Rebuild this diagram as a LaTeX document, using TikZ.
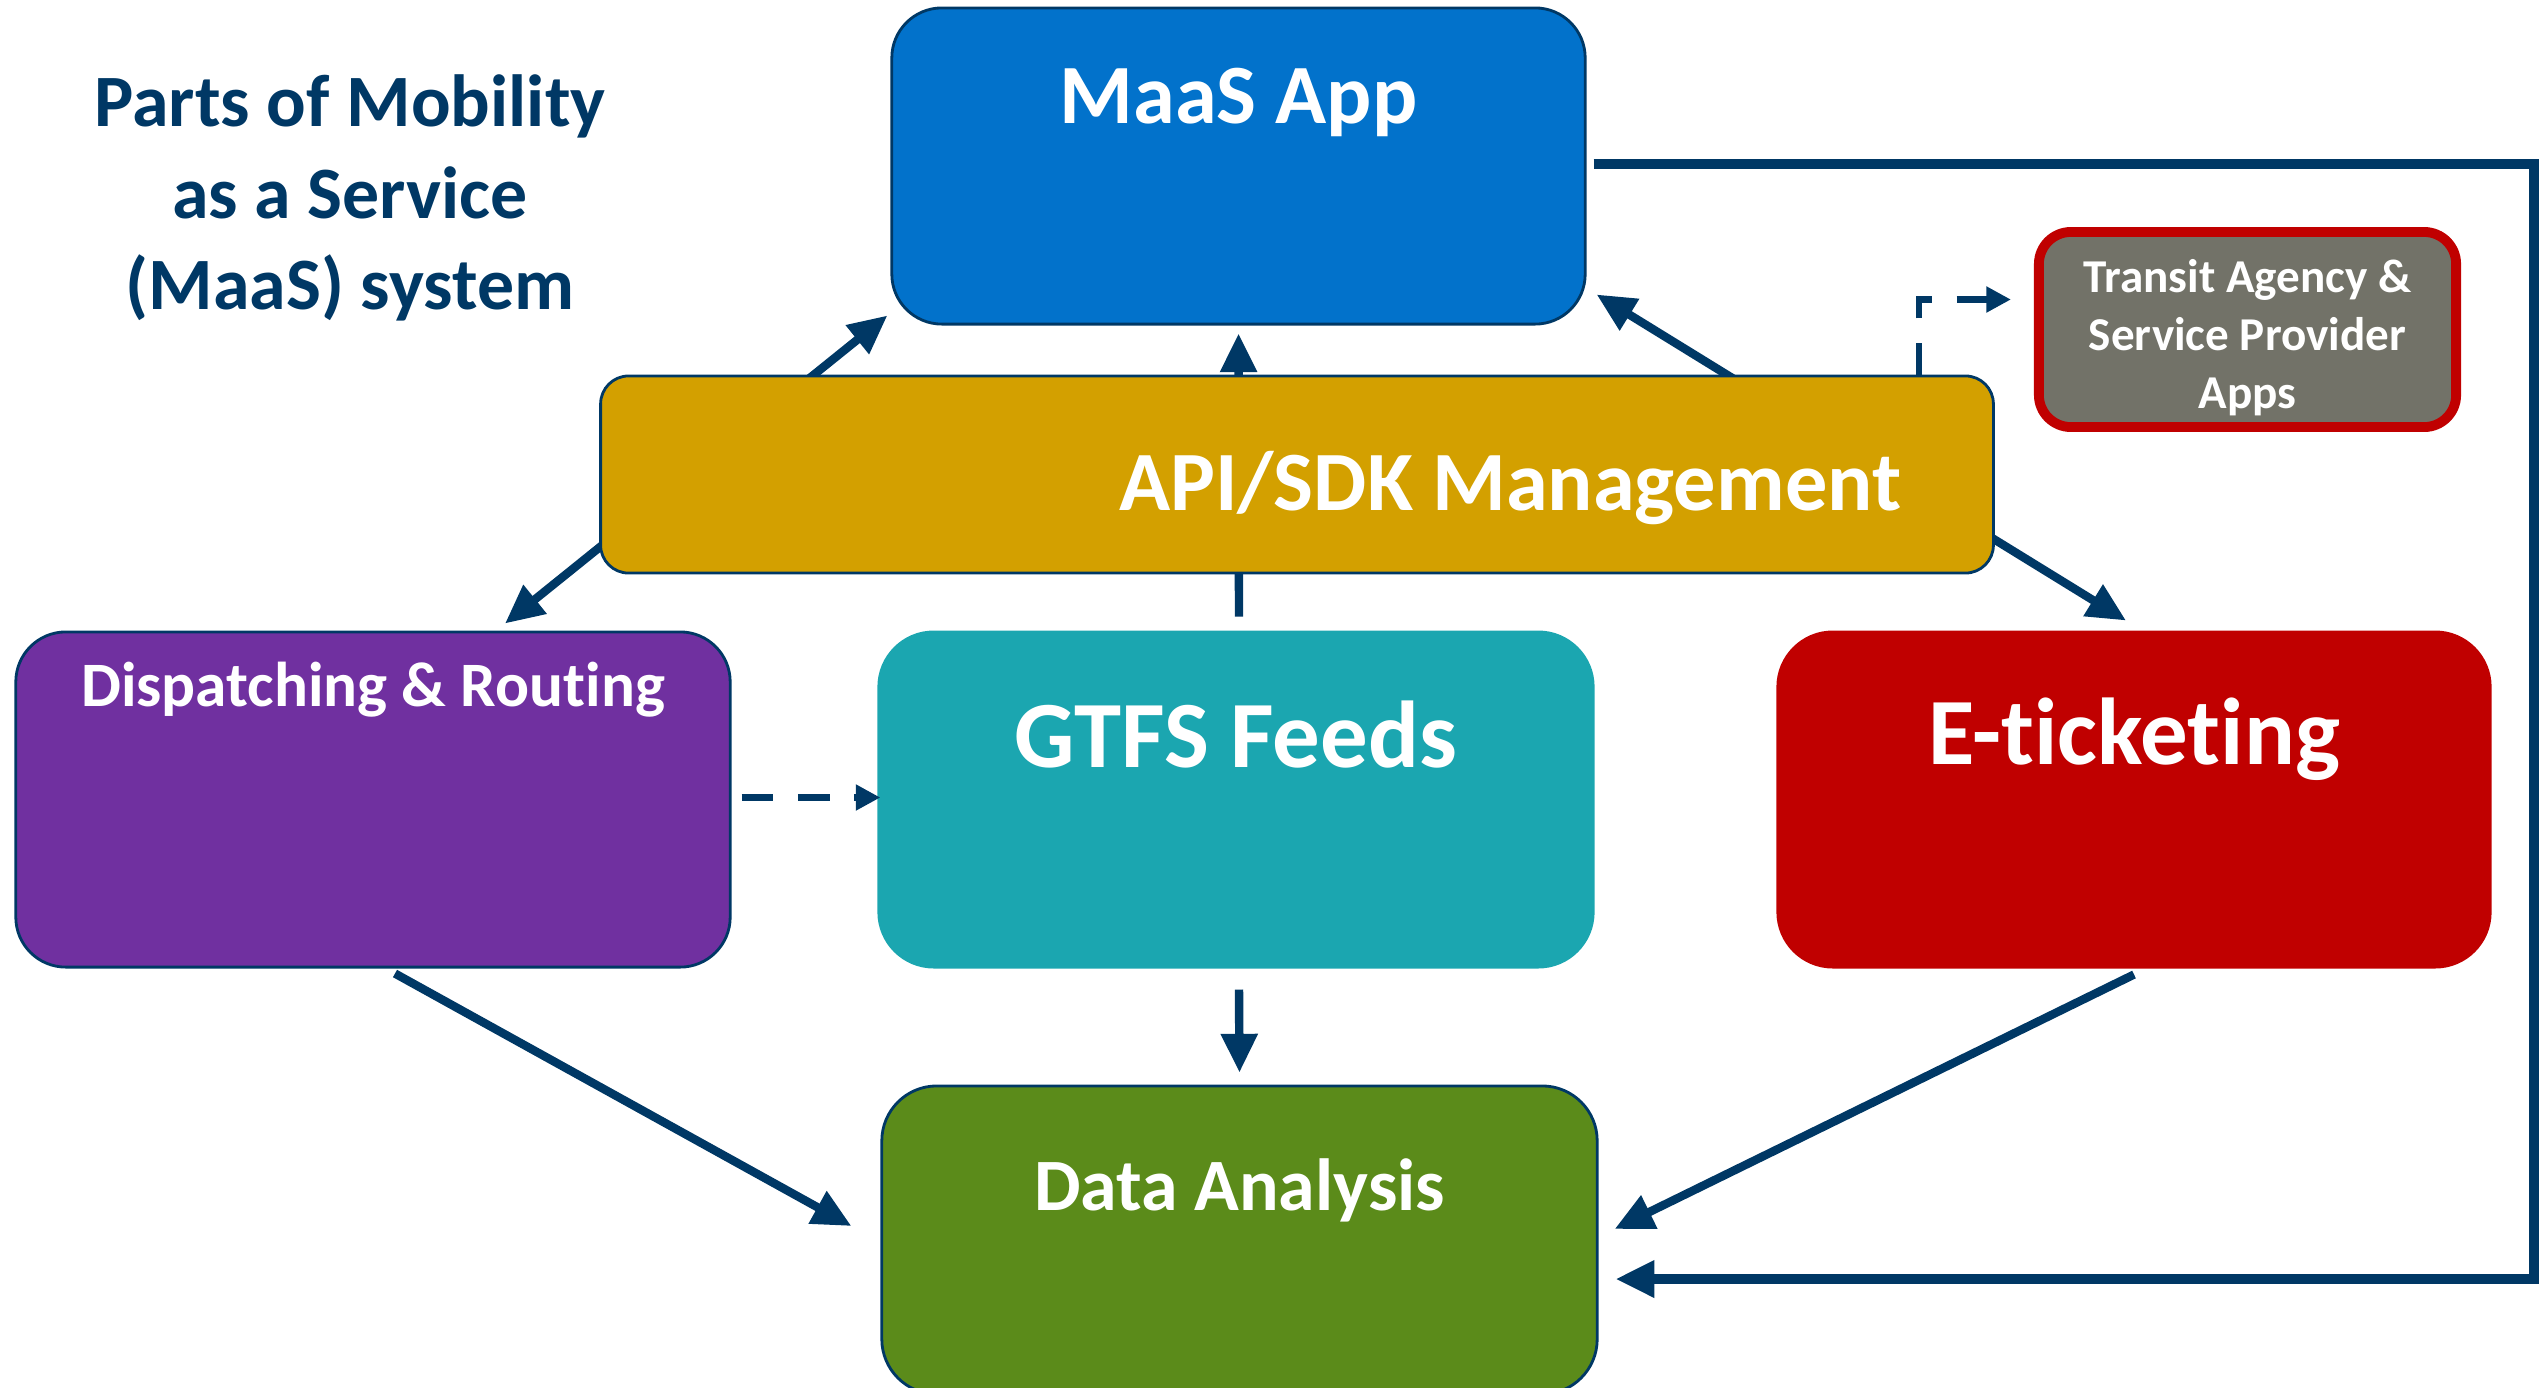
\documentclass[tikz,border=0pt]{standalone}
\usepackage{fontspec}
\setmainfont{Carlito}[Ligatures=NoCommon]
\usetikzlibrary{arrows.meta}
\definecolor{maasblue}{RGB}{2,114,203}
\definecolor{apigold}{RGB}{211,160,0}
\definecolor{disppurple}{RGB}{112,48,160}
\definecolor{gtfsteal}{RGB}{27,166,176}
\definecolor{etred}{RGB}{192,0,0}
\definecolor{datagreen}{RGB}{91,139,26}
\definecolor{transitgray}{RGB}{114,114,104}
\definecolor{navy}{RGB}{0,56,101}

\begin{document}
\begin{tikzpicture}[x=0.01cm,y=-0.01cm,
  box/.style={draw=navy,line width=0.8pt,rounded corners=0.5cm,inner sep=0pt},
  lbl/.style={text=white,anchor=base,inner sep=0pt},
  arr/.style={navy,line width=2.4pt,-{Triangle[length=11pt,width=10pt]}},
  dblarr/.style={navy,line width=2.4pt,{Triangle[length=11pt,width=10pt]}-{Triangle[length=11pt,width=10pt]}},
  dasharr/.style={navy,line width=1.8pt,dash pattern=on 9pt off 7pt,-{Triangle[length=7pt,width=7pt]}}]
\useasboundingbox (0,0) rectangle (2539,1387);

\node[text=navy,align=center,font=\bfseries\fontsize{21}{26}\selectfont] (title) at (350,198)
  {Parts of Mobility\\as a Service\\(MaaS) system};

\node[box,fill=maasblue,minimum width=6.93cm,minimum height=3.16cm,
  label={[lbl,font=\bfseries\fontsize{24}{28}\selectfont,yshift=-1.17cm]north:MaaS App}] (maas) at (1238.5,166) {};
\node[box,fill=disppurple,minimum width=7.14cm,minimum height=3.35cm,
  label={[lbl,font=\bfseries\fontsize{18}{22}\selectfont,yshift=-0.76cm]north:Dispatching \& Routing}] (disp) at (373,799.5) {};
\node[box,fill=gtfsteal,draw=gtfsteal,rounded corners=0.55cm,minimum width=7.14cm,minimum height=3.35cm,
  label={[lbl,font=\bfseries\fontsize{27}{32}\selectfont,yshift=-1.37cm]north:GTFS Feeds}] (gtfs) at (1236,799.5) {};
\node[box,fill=etred,draw=etred,rounded corners=0.55cm,minimum width=7.12cm,minimum height=3.35cm,
  label={[lbl,font=\bfseries\fontsize{27}{32}\selectfont,yshift=-1.34cm]north:E-ticketing}] (etick) at (2134,799.5) {};
\node[box,fill=datagreen,rounded corners=0.55cm,minimum width=7.15cm,minimum height=3.08cm,
  label={[lbl,font=\bfseries\fontsize{21}{25}\selectfont,yshift=-1.26cm]north:Data Analysis}] (data) at (1239.5,1240) {};
\node[box,fill=transitgray,draw=etred,line width=2.8pt,rounded corners=0.32cm,
  minimum width=4.17cm,minimum height=1.95cm,
  label={[text=white,align=center,font=\bfseries\fontsize{13.4}{16.5}\selectfont,yshift=-0.08cm]center:Transit Agency \&\\Service Provider\\Apps}] (transit) at (2247.5,329.5) {};

% arrows running behind the API box
\draw[dblarr] ([shift={(132,-7)}]disp.north) -- ([shift={(-3,-10)}]maas.south west);
\draw[dblarr] ([shift={(-8,-10)}]etick.north) -- ([shift={(10,-31)}]maas.south east);
\draw[arr] ([shift={(3,-14)}]gtfs.north) -- ([shift={(0,8)}]maas.south);

\node[box,fill=apigold,rounded corners=0.28cm,minimum width=13.92cm,minimum height=1.97cm,
  label={[lbl,font=\bfseries\fontsize{24}{28}\selectfont,shift={(2.13cm,-1.36cm)}]north:API/SDK Management}] (api) at (1297,474.5) {};

\draw[dasharr] ([shift={(622,0)}]api.north) |- ([shift={(-23,-30)}]transit.west);
\draw[dasharr] ([shift={(10,-2)}]disp.east) -- ([shift={(3,-2)}]gtfs.west);

\draw[arr] ([shift={(3,21)}]gtfs.south) -- ([shift={(0,-12)}]data.north);
\draw[arr] ([shift={(22,5)}]disp.south) -- ([shift={(-29,-14)}]data.west);
\draw[arr] ([shift={(0,6)}]etick.south) -- ([shift={(16,-11)}]data.east);

\coordinate (loopcorner) at (2534,1279);
\draw[arr,line width=2.6pt] ([shift={(7,-2)}]maas.east) -| (loopcorner) -- ([shift={(17,39)}]data.east);
\end{tikzpicture}
\end{document}
